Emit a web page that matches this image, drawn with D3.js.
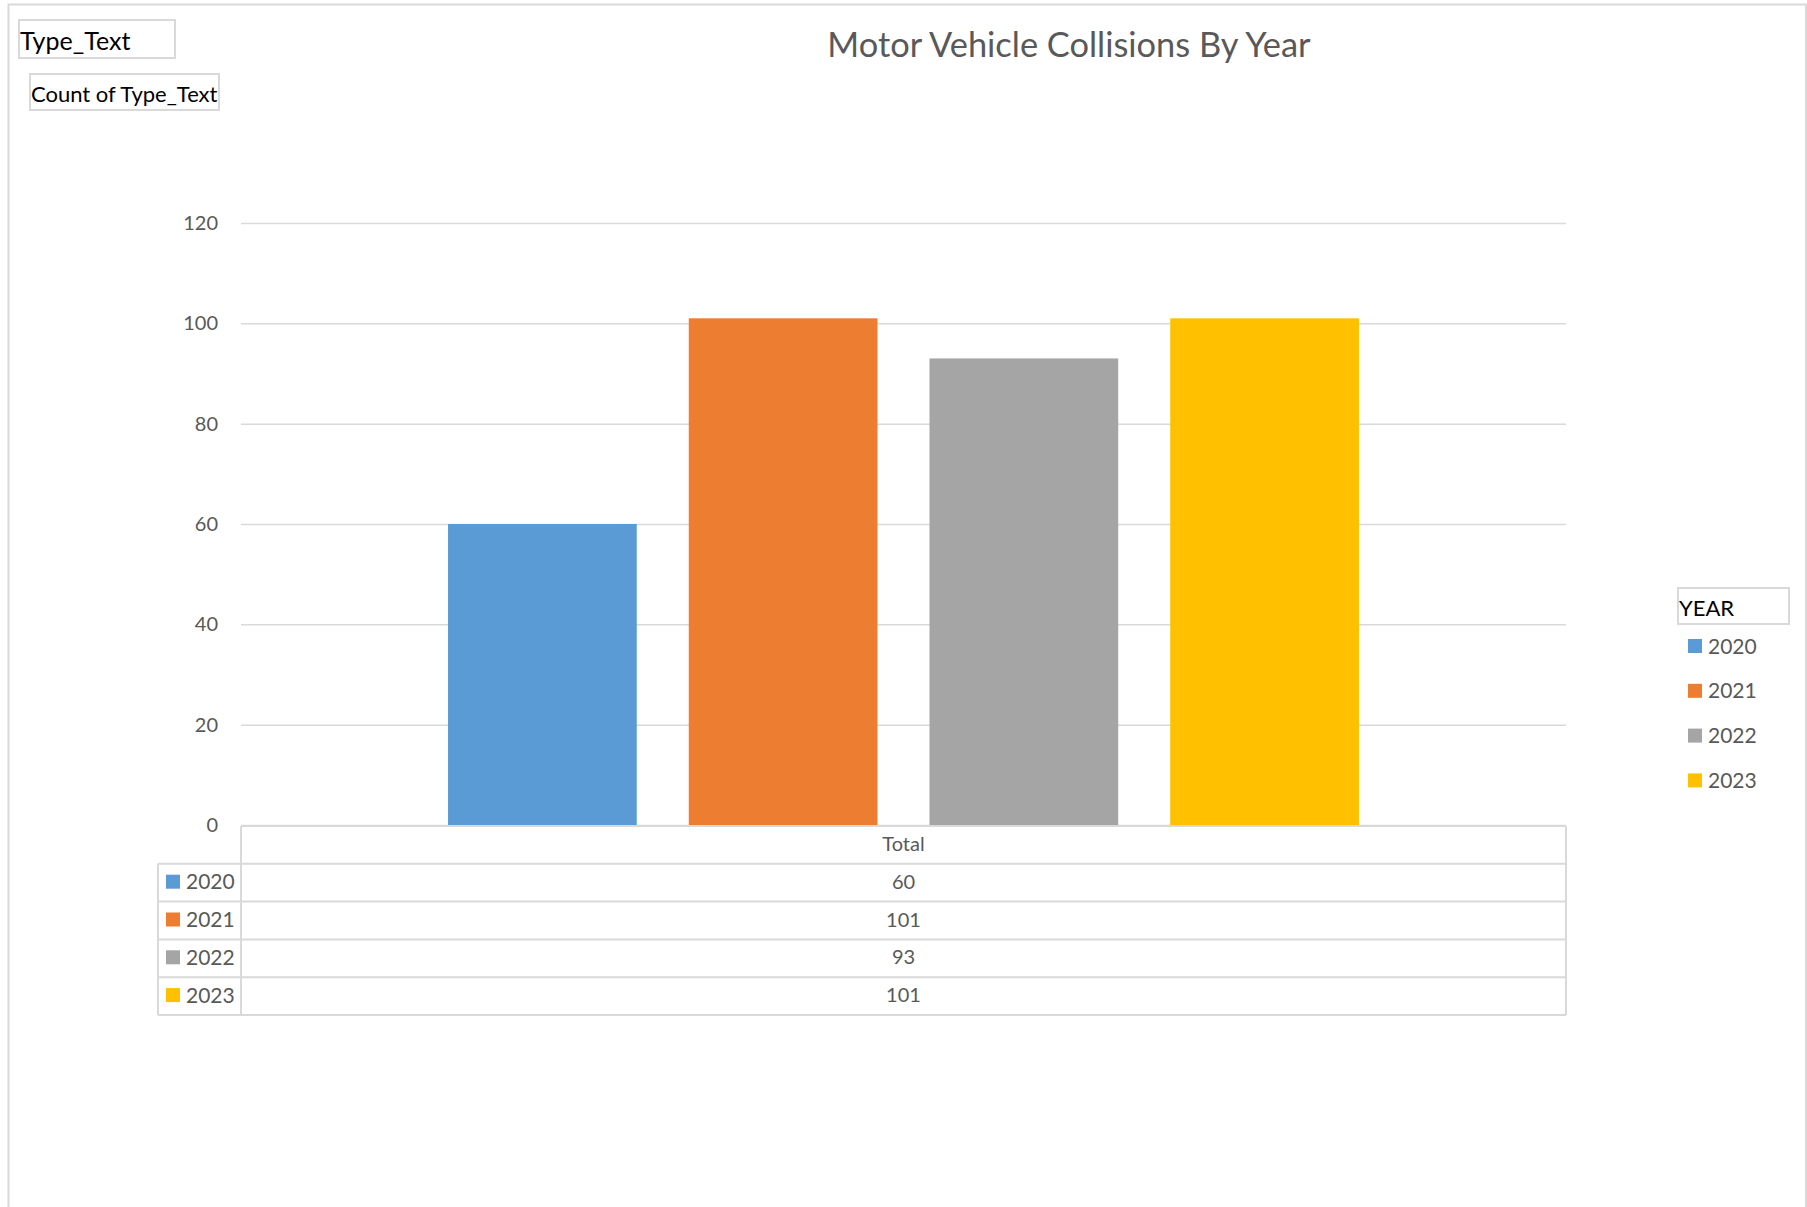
<!DOCTYPE html>
<html>
<head>
<meta charset="utf-8">
<script src="https://cdn.jsdelivr.net/npm/d3@7"></script>
<style>
  body { margin: 0; background: #fff; }
  svg { display: block; font-family: Lato, "Open Sans", sans-serif; }
</style>
</head>
<body>
<svg id="chart" width="1807" height="1207"></svg>
<script>
// data
const categories = ["Total"];
const years = ["2020", "2021", "2022", "2023"];
const counts = [60, 101, 93, 101];
const yTicks = [0, 20, 40, 60, 80, 100, 120];
const colors = ["#5B9BD5", "#ED7D31", "#A5A5A5", "#FFC000"];

const GRID = "#d9d9d9";
const TXT = "#595959";

// plot box
const plot = { left: 241, right: 1566, top: 223, bottom: 825 };
const rowH = 37.8;

const svg = d3.select("#chart");

svg.append("rect").attr("width", 1807).attr("height", 1207).attr("fill", "#fff");

// outer frame of the chart object
const frame = svg.append("g").attr("stroke", GRID).attr("stroke-width", 2).attr("fill", "none");
frame.append("path").attr("d", "M8.5,1207 V4.5 H1806 V1207");

// scales
const y = d3.scaleLinear().domain([0, 120]).range([plot.bottom, plot.top]);
const x0 = d3.scaleBand().domain(categories).range([plot.left, plot.right]);
const x1 = d3.scaleBand().domain(years).range([0, x0.bandwidth()])
  .paddingInner(0.216).paddingOuter(0.86);
const color = d3.scaleOrdinal().domain(years).range(colors);

// gridlines + tick labels
const yAxis = d3.axisLeft(y).tickValues(yTicks)
  .tickSize(-(plot.right - plot.left)).tickPadding(23);
const yg = svg.append("g")
  .attr("transform", `translate(${plot.left},0)`)
  .call(yAxis);
yg.select(".domain").remove();
yg.selectAll(".tick line").attr("stroke", GRID).attr("stroke-width", 1.5);
yg.selectAll(".tick text")
  .attr("fill", TXT).attr("font-size", 20).attr("font-family", "Lato, sans-serif");

// bars
const rows = years.map((yr, i) => ({ year: yr, value: counts[i], cat: categories[0] }));
svg.append("g")
  .selectAll("rect")
  .data(rows)
  .join("rect")
  .attr("x", d => x0(d.cat) + x1(d.year))
  .attr("y", d => y(d.value))
  .attr("width", x1.bandwidth())
  .attr("height", d => y(0) - y(d.value))
  .attr("fill", d => color(d.year));

// data table under the axis
const tbl = svg.append("g").attr("stroke", GRID).attr("stroke-width", 2).attr("fill", "none");
const tTop = plot.bottom + 1;
const tBody = tTop + rowH;
const tBottom = tBody + rowH * years.length;
const keyLeft = 158;
tbl.append("line").attr("x1", plot.left).attr("x2", plot.right).attr("y1", tTop).attr("y2", tTop);
d3.range(years.length + 1).forEach(i => {
  tbl.append("line").attr("x1", keyLeft).attr("x2", plot.right)
    .attr("y1", tBody + i * rowH).attr("y2", tBody + i * rowH);
});
tbl.append("line").attr("x1", plot.left).attr("x2", plot.left).attr("y1", tTop).attr("y2", tBottom);
tbl.append("line").attr("x1", plot.right).attr("x2", plot.right).attr("y1", tTop).attr("y2", tBottom);
tbl.append("line").attr("x1", keyLeft).attr("x2", keyLeft).attr("y1", tBody).attr("y2", tBottom);

const midX = x0(categories[0]) + x0.bandwidth() / 2;
svg.append("text")
  .attr("x", midX).attr("y", tTop + rowH / 2 - 2)
  .attr("text-anchor", "middle").attr("dominant-baseline", "central")
  .attr("fill", TXT).attr("font-size", 20)
  .text(categories[0]);

const trow = svg.append("g").selectAll("g")
  .data(rows)
  .join("g")
  .attr("transform", (d, i) => `translate(0,${tBody + i * rowH + rowH / 2 - 2})`);
trow.append("rect")
  .attr("x", 166).attr("y", -6).attr("width", 14).attr("height", 14)
  .attr("fill", d => color(d.year));
trow.append("text")
  .attr("x", 186).attr("dominant-baseline", "central")
  .attr("fill", TXT).attr("font-size", 21)
  .text(d => d.year);
trow.append("text")
  .attr("x", midX).attr("text-anchor", "middle").attr("dominant-baseline", "central")
  .attr("fill", TXT).attr("font-size", 20)
  .text(d => d.value);

// title
svg.append("text")
  .attr("x", 1069).attr("y", 57)
  .attr("text-anchor", "middle")
  .attr("fill", TXT).attr("font-size", 34.4)
  .text("Motor Vehicle Collisions By Year");

// pivot field buttons
const btn = (x, yy, w, h, label, size) => {
  svg.append("rect").attr("x", x).attr("y", yy).attr("width", w).attr("height", h)
    .attr("fill", "#fff").attr("stroke", GRID).attr("stroke-width", 2);
  svg.append("text").attr("x", x + 1).attr("y", yy + h - 8)
    .attr("fill", "#000").attr("font-size", size).text(label);
};
btn(19, 20, 156, 38, "Type_Text", 25);
btn(30, 74, 189, 36, "Count of Type_Text", 22);

// legend
btn(1678, 588, 111, 36, "YEAR", 22);
const leg = svg.append("g").selectAll("g")
  .data(years)
  .join("g")
  .attr("transform", (d, i) => `translate(1688,${645 + i * 44.8})`);
leg.append("rect").attr("y", -6).attr("width", 14).attr("height", 14).attr("fill", d => color(d));
leg.append("text").attr("x", 20).attr("dominant-baseline", "central")
  .attr("fill", TXT).attr("font-size", 21).text(d => d);
</script>
</body>
</html>
